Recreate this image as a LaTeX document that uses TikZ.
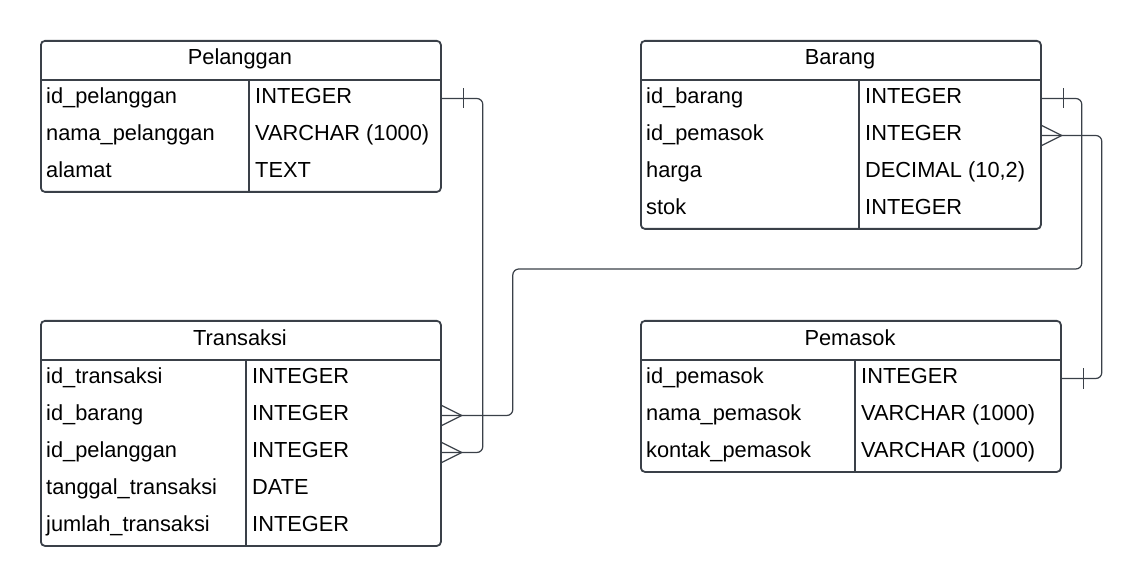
\documentclass[tikz,border=0pt]{standalone}
\usepackage{fontspec}
\setmainfont{Liberation Sans}
\usetikzlibrary{calc}
\definecolor{linegray}{RGB}{58,64,72}

\begin{document}
\begin{tikzpicture}[x = 1pt, y = -1pt,
        font = \fontsize{21.8pt}{26pt}\selectfont,
        entity/.style = {draw = linegray, line width = 1.8pt, rounded corners = 4pt, anchor = north west, inner sep = 0pt},
        divider/.style = {draw = linegray, line width = 1.8pt},
        header/.style = {anchor = base, inner sep = 0pt},
        field/.style = {anchor = base west, inner sep = 0pt},
        rel/.style = {draw = linegray, line width = 1.2pt, rounded corners = 6pt},
        endmark/.style = {draw = linegray, line width = 1.2pt}]
        \useasboundingbox (0, 0) rectangle (1141, 585);

        % Pelanggan
        \node [entity, minimum width = 400pt, minimum height = 151pt] (pel) at (40, 40) {};
        \node [header] (pel-h) at (240, 65) {Pelanggan};
        \draw [divider] (40, 80) -- (440, 80);
        \draw [divider] (249, 80) -- (249, 191);
        \foreach \colname/\coltype [count = \i] in {id\_pelanggan/INTEGER, nama\_pelanggan/VARCHAR (1000), alamat/TEXT} {
            \coordinate (pel-\i) at (40, {61.5 + 37*\i});
            \node [field] (pelf-\i) at (46, {66.5 + 37*\i}) {\colname};
            \node [field] (pelt-\i) at (255, {66.5 + 37*\i}) {\coltype};
        }

        % Barang
        \node [entity, minimum width = 400pt, minimum height = 188pt] (bar) at (640, 40) {};
        \node [header] (bar-h) at (840, 65) {Barang};
        \draw [divider] (640, 80) -- (1040, 80);
        \draw [divider] (859, 80) -- (859, 228);
        \foreach \colname/\coltype [count = \i] in {id\_barang/INTEGER, id\_pemasok/INTEGER, {harga/DECIMAL (10,2)}, stok/INTEGER} {
            \coordinate (bar-\i) at (640, {61.5 + 37*\i});
            \node [field] (barf-\i) at (646, {66.5 + 37*\i}) {\colname};
            \node [field] (bart-\i) at (865, {66.5 + 37*\i}) {\coltype};
        }

        % Transaksi
        \node [entity, minimum width = 400pt, minimum height = 225pt] (trk) at (40, 320) {};
        \node [header] (trk-h) at (240, 345) {Transaksi};
        \draw [divider] (40, 360) -- (440, 360);
        \draw [divider] (246, 360) -- (246, 545);
        \foreach \colname/\coltype [count = \i] in {id\_transaksi/INTEGER, id\_barang/INTEGER, id\_pelanggan/INTEGER, tanggal\_transaksi/DATE, jumlah\_transaksi/INTEGER} {
            \coordinate (trk-\i) at (40, {341.5 + 37*\i});
            \node [field] (trkf-\i) at (46, {346.5 + 37*\i}) {\colname};
            \node [field] (trkt-\i) at (252, {346.5 + 37*\i}) {\coltype};
        }

        % Pemasok
        \node [entity, minimum width = 420pt, minimum height = 151pt] (pem) at (640, 320) {};
        \node [header] (pem-h) at (850, 345) {Pemasok};
        \draw [divider] (640, 360) -- (1060, 360);
        \draw [divider] (855, 360) -- (855, 471);
        \foreach \colname/\coltype [count = \i] in {id\_pemasok/INTEGER, nama\_pemasok/VARCHAR (1000), kontak\_pemasok/VARCHAR (1000)} {
            \coordinate (pem-\i) at (640, {341.5 + 37*\i});
            \node [field] (pemf-\i) at (646, {346.5 + 37*\i}) {\colname};
            \node [field] (pemt-\i) at (861, {346.5 + 37*\i}) {\coltype};
        }

        % relations
        \draw [rel] (pel.east |- pel-1) -- ++(41, 0) |- (trk.east |- trk-3);
        \draw [endmark] ($(pel.east |- pel-1) + (22, -10)$) -- ++(0, 20);
        \draw [endmark] ($(trk.east |- trk-3) + (0, -10)$) -- ++(20, 10) -- ++(-20, 10);

        \draw [rel] (bar.east |- bar-1) -- ++(40, 0) -- ++(0, 170.5) -| ($(trk.east |- trk-2) + (71, 0)$) -- (trk.east |- trk-2);
        \draw [endmark] ($(bar.east |- bar-1) + (22, -10)$) -- ++(0, 20);
        \draw [endmark] ($(trk.east |- trk-2) + (0, -10)$) -- ++(20, 10) -- ++(-20, 10);

        \draw [rel] (bar.east |- bar-2) -- ++(60, 0) |- (pem.east |- pem-1);
        \draw [endmark] ($(bar.east |- bar-2) + (0, -10)$) -- ++(20, 10) -- ++(-20, 10);
        \draw [endmark] ($(pem.east |- pem-1) + (22, -10)$) -- ++(0, 20);
\end{tikzpicture}
\end{document}
